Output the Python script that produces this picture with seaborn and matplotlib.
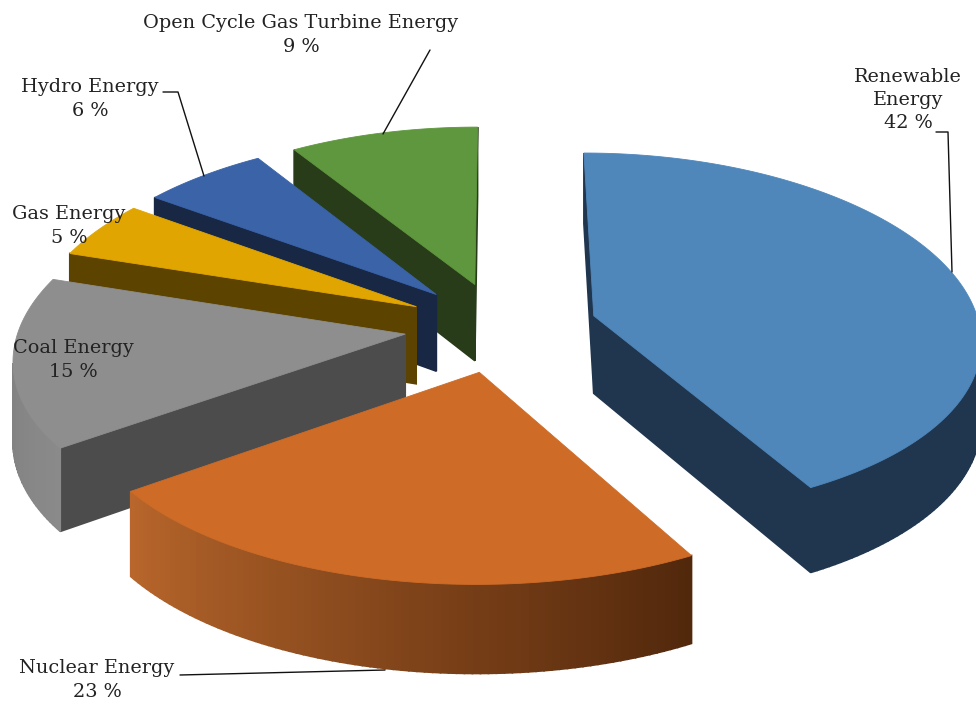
import numpy as np
import seaborn as sns
import matplotlib
matplotlib.use('Agg')
import matplotlib.pyplot as plt
from matplotlib.patches import Polygon

# pie data
sources = ['Renewable\nEnergy', 'Nuclear Energy', 'Coal Energy', 'Gas Energy',
           'Hydro Energy', 'Open Cycle Gas Turbine Energy']
shares = [42, 23, 15, 5, 6, 9]

top_colors = ['#4f87bb', '#cd6b27', '#8e8e8e', '#e0a500', '#3a63a8', '#5f973e']
face_colors = ['#20364f', '#52280c', '#4c4c4c', '#5c4300', '#172744', '#283c19']
rim_colors = [('#20364f', '#20364f'), ('#52280c', '#b8662b'), ('#8a8a8a', '#7a7a7a'),
              ('#5c4300', '#5c4300'), ('#172744', '#172744'), ('#283c19', '#283c19')]

# label centre and leader line, in pixels
label_xy = [(908, 100), (97, 680), (73, 360), (69, 226), (90, 99), (301, 35)]
leaders = [[(936, 132), (948, 132), (952, 272)],
           [(180, 675), (385, 670)],
           None,
           None,
           [(163, 92), (178, 92), (204, 176)],
           [(430, 50), (383, 134)]]

# projection settings
cx, cy = 501, 327
radius = 386
perspective_x = 0.12
perspective_y = 0.10
tilt = 0.467
depth = 78
explode = 0.25


def project(x, y, drop=0.0):
    sx = 1 / (1 + perspective_x * y)
    sy = 1 / (1 + perspective_y * y)
    return cx + radius * sx * x, cy - 388 * sy * tilt * y + drop * sy


def draw_slice(ax, t0, t1, top, face, rim):
    mid = (t0 + t1) / 2
    ax0 = explode * np.sin(mid)
    ay0 = explode * np.cos(mid)
    angles = np.linspace(t0, t1, max(int(np.degrees(t1 - t0)), 4) + 1)
    xs = np.r_[ax0, ax0 + np.sin(angles), ax0]
    ys = np.r_[ay0, ay0 + np.cos(angles), ay0]
    upper = np.array([project(x, y) for x, y in zip(xs, ys)])
    lower = np.array([project(x, y, depth) for x, y in zip(xs, ys)])

    ramp = sns.blend_palette(list(rim), len(angles) - 1)
    n = len(upper) - 1
    # walls: an edge of the top that runs leftwards has its side facing us
    for i in range(n):
        if upper[i + 1, 0] >= upper[i, 0]:
            continue
        quad = [upper[i], upper[i + 1], lower[i + 1], lower[i]]
        col = face if i in (0, n - 1) else ramp[i - 1]
        ax.add_patch(Polygon(quad, closed=True, fc=col, ec=col, lw=1.2))
    ax.add_patch(Polygon(upper[:-1], closed=True, fc=top, ec=top, lw=0.6))


sns.set_theme(style='white')
plt.rcParams['font.family'] = ['DejaVu Serif']

fig = plt.figure(figsize=(9.76, 7.04), dpi=100)
ax = fig.add_axes([0, 0, 1, 1])
ax.set_xlim(0, 976)
ax.set_ylim(704, 0)
ax.axis('off')

edges = np.radians(np.r_[0, np.cumsum(shares)] * 3.6)
# back slices first so the nearer ones cover them
for i in [0, 5, 4, 3, 2, 1]:
    draw_slice(ax, edges[i], edges[i + 1], top_colors[i], face_colors[i], rim_colors[i])

for name, value, pos, line in zip(sources, shares, label_xy, leaders):
    if line:
        ax.plot(*zip(*line), color='#111111', lw=1.0, zorder=5)
    ax.text(pos[0], pos[1], f'{name}\n{value} %', ha='center', va='center',
            fontsize=13.9, color='#222222', linespacing=1.38, zorder=6)

fig.savefig('out.png', dpi=100)
